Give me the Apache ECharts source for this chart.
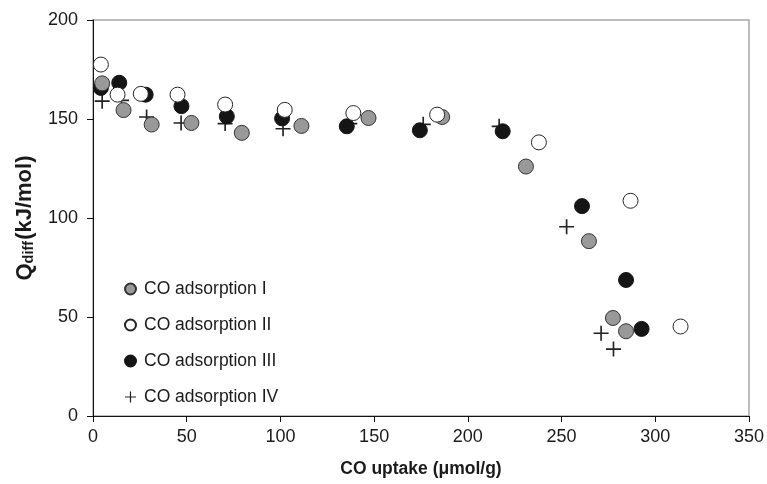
<!DOCTYPE html>
<html>
<head>
<meta charset="utf-8">
<script src="https://cdn.jsdelivr.net/npm/echarts@6/dist/echarts.min.js"></script>
<style>
  html, body { margin: 0; padding: 0; background: #fff; }
  #chart { width: 767px; height: 484px; }
</style>
</head>
<body>
<div id="chart"></div>
<script>
  // CO uptake (umol/g) vs differential heat (kJ/mol)
  var seriesNames = ['CO adsorption I', 'CO adsorption II', 'CO adsorption III', 'CO adsorption IV'];

  var adsI = [
    [4.9, 168], [16.3, 154.5], [31.3, 147.2], [52.5, 148], [79.4, 143],
    [111.2, 146.5], [147, 150.5], [186.3, 151], [231, 126], [264.6, 88.3],
    [277.4, 49.5], [284.4, 42.8]
  ];
  var adsII = [
    [4.2, 177.5], [13.1, 162.3], [25.5, 162.7], [45.1, 162.3], [70.5, 157.3],
    [102.3, 154.6], [138.9, 153], [183.6, 152.2], [237.9, 138.2], [286.8, 108.7],
    [313.5, 45.2]
  ];
  var adsIII = [
    [4.2, 165.7], [14, 168.3], [28.1, 162.3], [47.2, 156.5], [71.4, 151.3],
    [100.9, 150.3], [135.4, 146.3], [174.4, 144.3], [218.6, 143.8], [260.9, 106],
    [284.4, 68.7], [292.7, 44]
  ];
  var adsIV = [
    [4.9, 159], [15.2, 159.4], [28.6, 151], [47, 148], [70.5, 147.7],
    [101.4, 145.1], [137, 147.7], [176.2, 147.3], [216.7, 146.3], [252.7, 95.6],
    [271.1, 41.8], [277.7, 33.8]
  ];

  var chartDom = document.getElementById('chart');
  var myChart = echarts.init(chartDom);
  var font = '"Liberation Sans", Arial, sans-serif';
  // plus sign built from two thin bars
  var plusPath = 'path://M0,4.45H10V5.55H0Z M4.45,0H5.55V10H4.45Z';

  var option = {
    animation: false,
    textStyle: { fontFamily: font },
    grid: {
      left: 93, right: 16, top: 20, bottom: 68,
      show: true,
      borderColor: '#a8a8a8',
      borderWidth: 1.5
    },
    legend: {
      orient: 'vertical',
      left: 119,
      top: 275,
      itemWidth: 11,
      itemHeight: 11,
      itemGap: 18,
      textStyle: { fontFamily: font, fontSize: 17.5, color: '#1a1a1a', lineHeight: 18, padding: [0, 0, 0, 3] },
      data: [
        { name: seriesNames[0], icon: 'circle' },
        { name: seriesNames[1], icon: 'circle' },
        { name: seriesNames[2], icon: 'circle' },
        { name: seriesNames[3], icon: plusPath }
      ]
    },
    xAxis: {
      type: 'value',
      min: 0, max: 350, interval: 50,
      name: 'CO uptake (μmol/g)',
      nameLocation: 'middle',
      nameGap: 44,
      nameTextStyle: { fontFamily: font, fontSize: 17.5, fontWeight: 'bold', color: '#1a1a1a' },
      axisLine: { show: true, lineStyle: { color: '#111', width: 1 } },
      axisTick: { show: true, length: 6, lineStyle: { color: '#111' } },
      axisLabel: { fontFamily: font, fontSize: 18, color: '#1a1a1a', margin: 12 },
      splitLine: { show: false }
    },
    yAxis: {
      type: 'value',
      min: 0, max: 200, interval: 50,
      name: '{q|Q}{sub|diff}{q|(kJ/mol)}',
      nameLocation: 'middle',
      nameRotate: 90,
      nameGap: 57,
      nameTextStyle: {
        fontFamily: font, fontSize: 22, fontWeight: 'bold', color: '#1a1a1a',
        rich: {
          q: { fontFamily: font, fontSize: 22, fontWeight: 'bold', color: '#1a1a1a', verticalAlign: 'bottom' },
          sub: { fontFamily: font, fontSize: 14.5, fontWeight: 'bold', color: '#1a1a1a', verticalAlign: 'bottom', padding: [15, 1, 0, 0] }
        }
      },
      axisLine: { show: true, lineStyle: { color: '#111', width: 1 } },
      axisTick: { show: true, length: 6, lineStyle: { color: '#111' } },
      axisLabel: { fontFamily: font, fontSize: 18, color: '#1a1a1a', margin: 15 },
      splitLine: { show: false }
    },
    series: [
      {
        name: seriesNames[0], type: 'scatter', z: 4,
        symbol: 'circle', symbolSize: 15,
        itemStyle: { color: '#999999', borderColor: '#333', borderWidth: 1, opacity: 1 },
        data: adsI
      },
      {
        name: seriesNames[1], type: 'scatter', z: 5,
        symbol: 'circle', symbolSize: 15,
        itemStyle: { color: '#ffffff', borderColor: '#222', borderWidth: 1, opacity: 1 },
        data: adsII
      },
      {
        name: seriesNames[2], type: 'scatter', z: 3,
        symbol: 'circle', symbolSize: 15,
        itemStyle: { color: '#151515', borderColor: '#151515', borderWidth: 1, opacity: 1 },
        data: adsIII
      },
      {
        name: seriesNames[3], type: 'scatter', z: 2,
        symbol: plusPath, symbolSize: 15,
        itemStyle: { color: '#222', opacity: 1 },
        data: adsIV
      }
    ]
  };

  option && myChart.setOption(option);
</script>
</body>
</html>
